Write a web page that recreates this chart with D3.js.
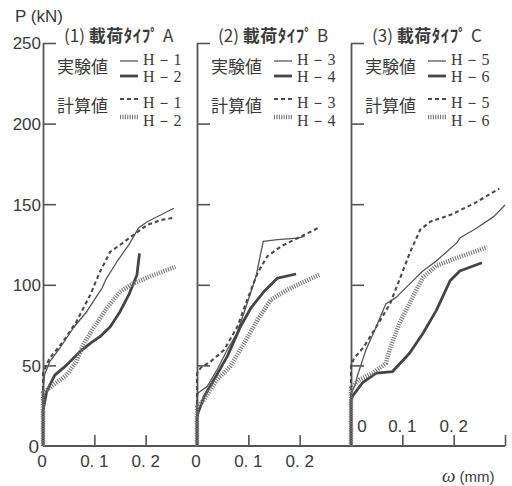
<!DOCTYPE html>
<html><head><meta charset="utf-8">
<script src="https://cdn.jsdelivr.net/npm/d3@7"></script>
<style>body{margin:0;background:#fff}</style>
</head><body>
<svg id="c" width="512" height="486"></svg>
<script>
// ---- data ----
const panelNums = ["(1)", "(2)", "(3)"];
const panelTypes = ["A", "B", "C"];
const yTicks = [0, 50, 100, 150, 200, 250];
const xTicks = [0.1, 0.2];
const xTickLabels = ["0. 1", "0. 2"];
const legendExpNames = [["H－1", "H－2"], ["H－3", "H－4"], ["H－5", "H－6"]];

// panel 1
const p1ExpThin = [[0,0],[0,35],[0.003,44],[0.013,52.3],[0.033,60.8],[0.059,73.2],[0.085,83.3],[0.115,98],[0.124,104.2],[0.144,114.3],[0.167,124.7],[0.186,135.2],[0.203,139.1],[0.229,143.3],[0.255,147.5]];
const p1ExpThick = [[0,0],[0,22],[0.007,33.7],[0.023,44],[0.046,50.2],[0.072,58.5],[0.092,63.7],[0.111,67.8],[0.131,74],[0.150,83.3],[0.167,93.7],[0.183,106.1],[0.186,114.3],[0.188,119.5]];
const p1CalcDash = [[0,0],[0,45],[0.007,50.5],[0.013,54.4],[0.039,64.7],[0.065,77.1],[0.092,93.7],[0.111,108.1],[0.131,120.5],[0.150,124.7],[0.176,130.9],[0.203,137.1],[0.229,140.2],[0.255,141.6]];
const p1CalcHatch = [[0,0],[0,33],[0.020,37.8],[0.046,44],[0.065,52.3],[0.078,62.7],[0.098,73],[0.124,85.4],[0.150,95.7],[0.176,100.9],[0.216,106.1],[0.258,111.2]];
// panel 2
const p2ExpThin = [[0,0],[0,30],[0.002,32.9],[0.020,37],[0.039,47.3],[0.059,59.7],[0.078,70.1],[0.098,88.7],[0.115,105.3],[0.129,127],[0.157,128],[0.196,129],[0.21,130]];
const p2ExpThick = [[0,0],[0,18],[0.002,20.5],[0.014,30.8],[0.033,41.1],[0.059,55.6],[0.085,74.3],[0.105,85.6],[0.131,96],[0.157,104.2],[0.193,106.7]];
const p2CalcDash = [[0,0],[0,45],[0.007,48.4],[0.027,52.5],[0.053,59.7],[0.079,74.3],[0.098,90.8],[0.118,107.3],[0.137,117.7],[0.164,123.9],[0.196,129],[0.239,135.7]];
const p2CalcHatch = [[0,0],[0,24],[0.014,28.7],[0.039,41.1],[0.065,49.4],[0.092,63.9],[0.118,78.3],[0.144,90.8],[0.177,97],[0.210,102.2],[0.239,106.3]];
// panel 3
const p3ExpThin = [[0,0],[0,32],[0.009,39],[0.012,43.1],[0.029,59.5],[0.049,73.8],[0.068,88.2],[0.088,92.2],[0.114,100.4],[0.140,108.6],[0.166,114.7],[0.206,126],[0.212,129],[0.245,135.2],[0.278,142.3],[0.300,149.5]];
const p3ExpThick = [[0,0],[0,28],[0.003,30.9],[0.022,39.1],[0.049,45.2],[0.081,46.2],[0.114,57.5],[0.140,69.8],[0.166,84],[0.193,102.5],[0.212,108.6],[0.255,113.7]];
const p3CalcDash = [[0,0],[0,50],[0.006,54.4],[0.025,61.5],[0.049,73.8],[0.076,88.2],[0.096,104.5],[0.116,120.9],[0.135,134.2],[0.155,139.3],[0.194,143.4],[0.240,150.5],[0.289,159.7]];
const p3CalcHatch = [[0,0],[0,36],[0.016,41.1],[0.042,45.2],[0.068,51.3],[0.075,59.5],[0.094,75.9],[0.120,92.2],[0.140,104.5],[0.166,111.7],[0.206,116.7],[0.265,123.3]];

const panelSeries = [
  [p1ExpThin, p1ExpThick, p1CalcDash, p1CalcHatch],
  [p2ExpThin, p2ExpThick, p2CalcDash, p2CalcHatch],
  [p3ExpThin, p3ExpThick, p3CalcDash, p3CalcHatch]
];

// ---- styles ----
const styles = [
  {stroke:"#555", width:1.3, dash:null},
  {stroke:"#444", width:2.8, dash:null},
  {stroke:"#4a4a4a", width:2.1, dash:"4,3"},
  {stroke:"#777", width:4.5, dash:"1.1,1.3"}
];
const axisColor = "#555";
const textColor = "#3a3a3a";

const svg = d3.select("#c");
const y = d3.scaleLinear().domain([0, 250]).range([446, 43]);
const panelX0 = [43, 197, 351];
const panelW = 154;
const xs = panelX0.map(x0 => d3.scaleLinear().domain([0, 0.3]).range([x0, x0 + panelW]));

// x axis baseline
svg.append("line").attr("x1", 43).attr("x2", 43 + 3*panelW).attr("y1", y(0)).attr("y2", y(0))
  .attr("stroke", axisColor).attr("stroke-width", 1.8);

xs.forEach((x, i) => {
  // y axis with inward ticks
  const ya = svg.append("g").attr("transform", `translate(${x(0)},0)`)
    .call(d3.axisRight(y).tickValues(yTicks.filter(v => v > 0)).tickSize(13).tickSizeOuter(0).tickFormat(""));
  ya.select(".domain").attr("stroke", axisColor).attr("stroke-width", 1.8);
  ya.selectAll(".tick line").attr("stroke", axisColor).attr("stroke-width", 1.6);

  // x ticks (upward)
  const tv = i === 2 ? xTicks.concat([0.3]) : xTicks;
  const xa = svg.append("g").attr("transform", `translate(0,${y(0)})`)
    .call(d3.axisTop(x).tickValues(tv).tickSize(11).tickSizeOuter(0).tickFormat(""));
  xa.select(".domain").remove();
  xa.selectAll(".tick line").attr("stroke", axisColor).attr("stroke-width", 1.6);

  // x tick labels
  const labY = i === 2 ? 432 : 467;
  const labels = [{v:0, t:"0"}].concat(xTicks.map((v, k) => ({v, t: xTickLabels[k]})));
  svg.append("g").selectAll("text").data(labels).join("text")
    .attr("x", d => x(d.v) + (i === 2 && d.v === 0 ? 11 : (d.v === 0 ? -1 : 0)))
    .attr("y", labY)
    .attr("text-anchor", "middle")
    .attr("font-family", "Liberation Sans, Arial, sans-serif")
    .attr("font-size", 17)
    .attr("fill", textColor)
    .text(d => d.t);

  // curves
  const line = d3.line().x(d => x(d[0])).y(d => y(d[1]));
  panelSeries[i].forEach((s, k) => {
    const st = styles[k];
    svg.append("path").datum(s).attr("d", line)
      .attr("fill", "none").attr("stroke", st.stroke).attr("stroke-width", st.width)
      .attr("stroke-dasharray", st.dash).attr("stroke-linejoin", "round");
  });

  // title
  const x0 = x(0);
  const title = svg.append("text").attr("x", x0 + 21).attr("y", 42)
    .attr("font-family", "Noto Sans CJK JP, sans-serif").attr("font-size", 17).attr("fill", textColor);
  title.append("tspan").text(panelNums[i] + " ");
  title.append("tspan").attr("font-weight", "bold").attr("letter-spacing", 0.5).text("載荷ﾀｲﾌﾟ");
  title.append("tspan").text("  " + panelTypes[i]);

  // legend
  const lg = svg.append("g").attr("font-family", "Noto Sans CJK JP, sans-serif").attr("fill", textColor);
  lg.append("text").attr("x", x0 + 14).attr("y", 73).attr("font-size", 17).text("実験値");
  lg.append("text").attr("x", x0 + 14).attr("y", 112).attr("font-size", 17).text("計算値");
  const sampleY = [61, 76, 99, 117];
  sampleY.forEach((sy, k) => {
    const st = styles[k];
    svg.append("line").attr("x1", x0 + 77).attr("x2", x0 + 95).attr("y1", sy).attr("y2", sy)
      .attr("stroke", st.stroke).attr("stroke-width", st.width).attr("stroke-dasharray", st.dash);
  });
  const nameY = [65, 82, 108, 126];
  const names = legendExpNames[i].concat(legendExpNames[i]);
  names.forEach((n, k) => {
    svg.append("text").attr("x", x0 + 100).attr("y", nameY[k])
      .attr("font-family", "Liberation Serif, Times New Roman, serif").attr("font-size", 16)
      .attr("fill", textColor).attr("letter-spacing", 1.5).text(n);
  });
});

// y tick labels (panel 1)
svg.append("g").selectAll("text").data(yTicks).join("text")
  .attr("x", d => d === 0 ? 39 : 41)
  .attr("y", d => y(d))
  .attr("dy", "0.38em")
  .attr("text-anchor", "end")
  .attr("font-family", "Liberation Sans, Arial, sans-serif")
  .attr("font-size", d => d === 0 ? 19 : 17)
  .attr("fill", textColor)
  .text(d => d);

// axis titles
svg.append("text").attr("x", 15).attr("y", 22)
  .attr("font-family", "Liberation Sans, Arial, sans-serif").attr("font-size", 17).attr("fill", textColor)
  .text("P (kN)");
const xt = svg.append("text").attr("x", 442).attr("y", 482).attr("fill", textColor);
xt.append("tspan").attr("font-family", "Liberation Serif, serif").attr("font-style", "italic").attr("font-size", 19).text("ω");
xt.append("tspan").attr("font-family", "Liberation Sans, Arial, sans-serif").attr("font-size", 15).text(" (mm)");
</script>
</body></html>
